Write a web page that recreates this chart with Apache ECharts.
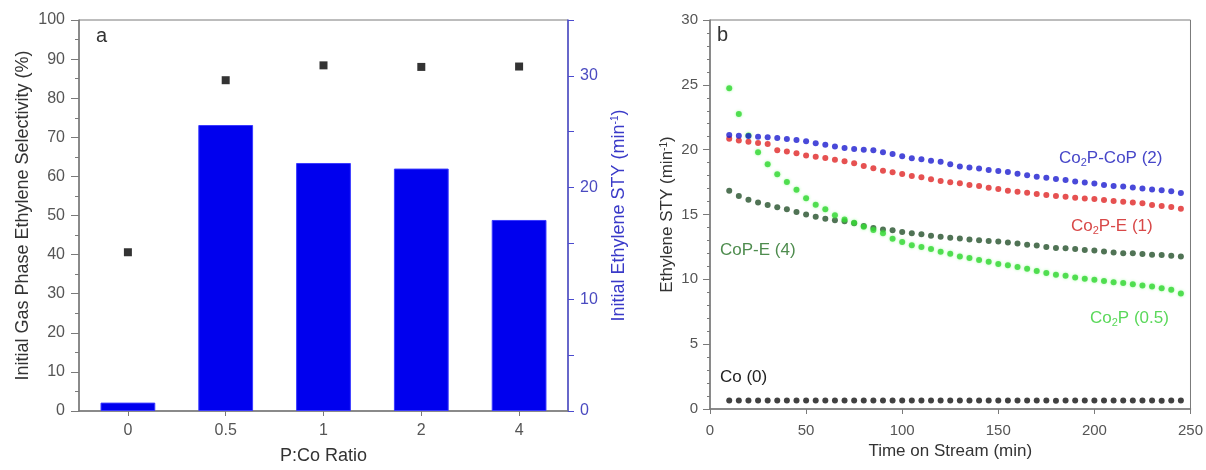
<!DOCTYPE html>
<html>
<head>
<meta charset="utf-8">
<script src="https://cdn.jsdelivr.net/npm/echarts@6/dist/echarts.min.js"></script>
<style>
html,body{margin:0;padding:0;background:#fff;}
#chart{width:1206px;height:470px;}
</style>
</head>
<body>
<div id="chart"></div>
<script>
// ---------- Panel a data ----------
const RATIOS = ['0', '0.5', '1', '2', '4'];
const SELECTIVITY = [40.6, 84.6, 88.4, 88.0, 88.1];      // % (left axis)
const STY_INITIAL = [0.75, 25.6, 22.2, 21.7, 17.1];      // min^-1 (right axis)

// ---------- Panel b data ----------
const TIME = [10,15,20,25,30,35,40,45,50,55,60,65,70,75,80,85,90,95,100,105,110,115,120,125,
              130,135,140,145,150,155,160,165,170,175,180,185,190,195,200,205,210,215,220,225,230,235,240,245];
const CO2P_COP = [21.13,21.08,21.05,21.0,20.95,20.9,20.82,20.75,20.65,20.5,20.38,20.25,20.12,20.05,20.0,19.95,
                  19.8,19.67,19.5,19.34,19.27,19.15,19.06,18.87,18.7,18.63,18.55,18.43,18.35,18.28,18.15,18.03,
                  17.92,17.84,17.74,17.66,17.54,17.46,17.4,17.28,17.2,17.15,17.08,17.0,16.93,16.87,16.8,16.66];
const CO2P_E = [20.85,20.7,20.62,20.52,20.44,19.95,19.85,19.72,19.55,19.45,19.35,19.22,19.1,18.95,18.75,18.56,
                18.38,18.26,18.13,17.97,17.87,17.72,17.59,17.49,17.41,17.28,17.2,17.07,16.97,16.84,16.76,16.68,
                16.58,16.51,16.43,16.37,16.3,16.24,16.19,16.11,16.04,15.98,15.92,15.86,15.73,15.65,15.58,15.45];
const COP_E = [16.84,16.43,16.13,15.92,15.74,15.56,15.41,15.2,15.0,14.82,14.68,14.55,14.47,14.33,14.12,13.95,
               13.85,13.79,13.66,13.56,13.48,13.37,13.28,13.2,13.14,13.08,13.02,12.96,12.91,12.84,12.77,12.66,
               12.6,12.5,12.42,12.4,12.34,12.27,12.22,12.14,12.07,12.02,12.01,11.96,11.89,11.88,11.81,11.76];
const CO2P = [24.73,22.75,21.1,19.8,18.87,18.1,17.5,16.9,16.25,15.76,15.4,14.95,14.62,14.36,14.05,13.8,
              13.56,13.13,12.88,12.62,12.49,12.34,12.12,11.98,11.76,11.65,11.5,11.35,11.18,11.09,10.95,10.82,
              10.65,10.48,10.35,10.27,10.14,10.04,9.96,9.88,9.78,9.71,9.63,9.52,9.45,9.32,9.2,8.9];
const CO = [0.66,0.65,0.65,0.66,0.65,0.65,0.65,0.66,0.65,0.65,0.65,0.65,0.66,0.65,0.65,0.65,
            0.65,0.66,0.65,0.65,0.65,0.65,0.65,0.66,0.65,0.65,0.65,0.65,0.65,0.66,0.65,0.65,
            0.65,0.65,0.64,0.65,0.65,0.65,0.66,0.65,0.65,0.65,0.65,0.65,0.65,0.64,0.65,0.65];

const LEFT_TICKS_A = [0,10,20,30,40,50,60,70,80,90,100];
const RIGHT_TICKS_A = [0,10,20,30];

const FONT = '"Liberation Sans", Arial, sans-serif';
const GRAY = '#7a7a7a';
const AXBLUE = '#4b4bcf';

function pairs(xs, ys){ return xs.map((x,i)=>[x, ys[i]]); }

const chart = echarts.init(document.getElementById('chart'), null, {renderer:'canvas'});

const subStyle = (color) => ({fontSize: 11, color: color, fontFamily: FONT, verticalAlign: 'bottom', lineHeight: 14, padding:[8,0,0,0]});
const mainStyle = (color) => ({fontSize: 17, color: color, fontFamily: FONT, lineHeight: 20});

function labelText(x, y, parts, color){
  return {
    type: 'text', left: x, top: y, z: 100,
    style: {
      text: parts,
      rich: { m: mainStyle(color), s: subStyle(color) },
      fill: color
    }
  };
}

const option = {
  backgroundColor: '#fff',
  animation: false,
  textStyle: { fontFamily: FONT },
  grid: [
    { left: 79, right: 638, top: 20, bottom: 57, show: true, borderColor: GRAY, borderWidth: 1, backgroundColor: 'transparent' },
    { left: 710, right: 14, top: 20, bottom: 61, show: true, borderColor: GRAY, borderWidth: 1, backgroundColor: 'transparent' }
  ],
  xAxis: [
    {
      type: 'category', gridIndex: 0, data: RATIOS, boundaryGap: true,
      name: 'P:Co Ratio', nameLocation: 'middle', nameGap: 36,
      nameTextStyle: { fontSize: 18, color: '#333', fontFamily: FONT },
      axisLine: { show: true, lineStyle: { color: GRAY, width: 1.5 } },
      axisTick: { show: true, alignWithLabel: true, inside: false, length: 5, lineStyle: { color: GRAY } },
      axisLabel: { fontSize: 16, color: '#555', margin: 12, fontFamily: FONT },
      splitLine: { show: false }
    },
    {
      type: 'value', gridIndex: 1, min: 0, max: 250, interval: 50,
      name: 'Time on Stream (min)', nameLocation: 'middle', nameGap: 34,
      nameTextStyle: { fontSize: 17, color: '#333', fontFamily: FONT },
      axisLine: { show: true, onZero: false, lineStyle: { color: GRAY, width: 1.5 } },
      axisTick: { show: true, inside: false, length: 5, lineStyle: { color: GRAY } },
      minorTick: { show: false },
      axisLabel: { fontSize: 15, color: '#555', margin: 14, fontFamily: FONT },
      splitLine: { show: false }
    }
  ],
  yAxis: [
    {
      type: 'value', gridIndex: 0, min: 0, max: 100, interval: 10,
      name: 'Initial Gas Phase Ethylene Selectivity (%)', nameLocation: 'middle', nameGap: 47,
      nameTextStyle: { fontSize: 18, color: '#333', fontFamily: FONT },
      axisLine: { show: true, lineStyle: { color: GRAY, width: 1.5 } },
      axisTick: { show: true, inside: false, length: 8, lineStyle: { color: GRAY } },
      minorTick: { show: true, splitNumber: 2, length: 4, lineStyle: { color: GRAY } },
      axisLabel: { fontSize: 16, color: '#555', margin: 14, fontFamily: FONT },
      splitLine: { show: false }
    },
    {
      type: 'value', gridIndex: 0, min: 0, max: 35, interval: 5, position: 'right',
      name: 'Initial Ethylene STY (min{sup|-1})', nameLocation: 'middle', nameGap: 42,
      nameTextStyle: { fontSize: 18, color: '#3a3ac8', fontFamily: FONT,
        rich: { sup: { fontSize: 10, color: '#3a3ac8', verticalAlign: 'top', lineHeight: 12, padding:[0,0,8,0] } } },
      axisLine: { show: true, lineStyle: { color: AXBLUE, width: 1.5 } },
      axisTick: { show: true, inside: false, length: 6, lineStyle: { color: AXBLUE } },
      axisLabel: { fontSize: 16, color: '#4a4ac0', margin: 12, fontFamily: FONT,
        formatter: v => (RIGHT_TICKS_A.indexOf(v) >= 0 ? String(v) : '') },
      splitLine: { show: false }
    },
    {
      type: 'value', gridIndex: 1, min: 0, max: 30, interval: 5,
      name: 'Ethylene STY (min{sup|-1})', nameLocation: 'middle', nameGap: 34,
      nameTextStyle: { fontSize: 17, color: '#333', fontFamily: FONT,
        rich: { sup: { fontSize: 10, color: '#333', verticalAlign: 'top', lineHeight: 12, padding:[0,0,8,0] } } },
      axisLine: { show: true, lineStyle: { color: GRAY, width: 1.5 } },
      axisTick: { show: true, inside: false, length: 7, lineStyle: { color: GRAY } },
      minorTick: { show: true, splitNumber: 5, length: 3, lineStyle: { color: GRAY } },
      axisLabel: { fontSize: 15, color: '#555', margin: 12, fontFamily: FONT },
      splitLine: { show: false }
    }
  ],
  series: [
    {
      name: 'STY', type: 'bar', xAxisIndex: 0, yAxisIndex: 1, data: STY_INITIAL,
      barWidth: '56%',
      itemStyle: { color: '#0000ee', borderColor: '#3a3aff', borderWidth: 1 }
    },
    {
      name: 'Selectivity', type: 'scatter', xAxisIndex: 0, yAxisIndex: 0, data: SELECTIVITY,
      symbol: 'rect', symbolSize: 8, itemStyle: { color: '#000' }, z: 5
    },
    { name: 'Co (0)', type: 'scatter', xAxisIndex: 1, yAxisIndex: 2, data: pairs(TIME, CO),
      symbolSize: 6, itemStyle: { color: '#111' } },
    { name: 'CoP-E (4)', type: 'scatter', xAxisIndex: 1, yAxisIndex: 2, data: pairs(TIME, COP_E),
      symbolSize: 6, itemStyle: { color: '#24502a' } },
    { name: 'Co2P (0.5)', type: 'scatter', xAxisIndex: 1, yAxisIndex: 2, data: pairs(TIME, CO2P),
      symbolSize: 6, itemStyle: { color: '#33d633', shadowBlur: 3, shadowColor: 'rgba(80,255,80,0.6)' } },
    { name: 'Co2P-E (1)', type: 'scatter', xAxisIndex: 1, yAxisIndex: 2, data: pairs(TIME, CO2P_E),
      symbolSize: 6, itemStyle: { color: '#e02525' } },
    { name: 'Co2P-CoP (2)', type: 'scatter', xAxisIndex: 1, yAxisIndex: 2, data: pairs(TIME, CO2P_COP),
      symbolSize: 6, itemStyle: { color: '#1c1cd0' } }
  ],
  graphic: [
    { type: 'text', left: 96, top: 26, z: 100, style: { text: 'a', fontSize: 20, fill: '#333', fontFamily: FONT } },
    { type: 'text', left: 717, top: 25, z: 100, style: { text: 'b', fontSize: 20, fill: '#333', fontFamily: FONT } },
    labelText(1059, 149, '{m|Co}{s|2}{m|P-CoP (2)}', '#4646c8'),
    labelText(1071, 217, '{m|Co}{s|2}{m|P-E (1)}', '#d84848'),
    labelText(720, 242, '{m|CoP-E (4)}', '#4e8c4e'),
    labelText(1090, 309, '{m|Co}{s|2}{m|P (0.5)}', '#5ad85a'),
    labelText(720, 369, '{m|Co (0)}', '#222')
  ]
};

chart.setOption(option);
</script>
</body>
</html>
